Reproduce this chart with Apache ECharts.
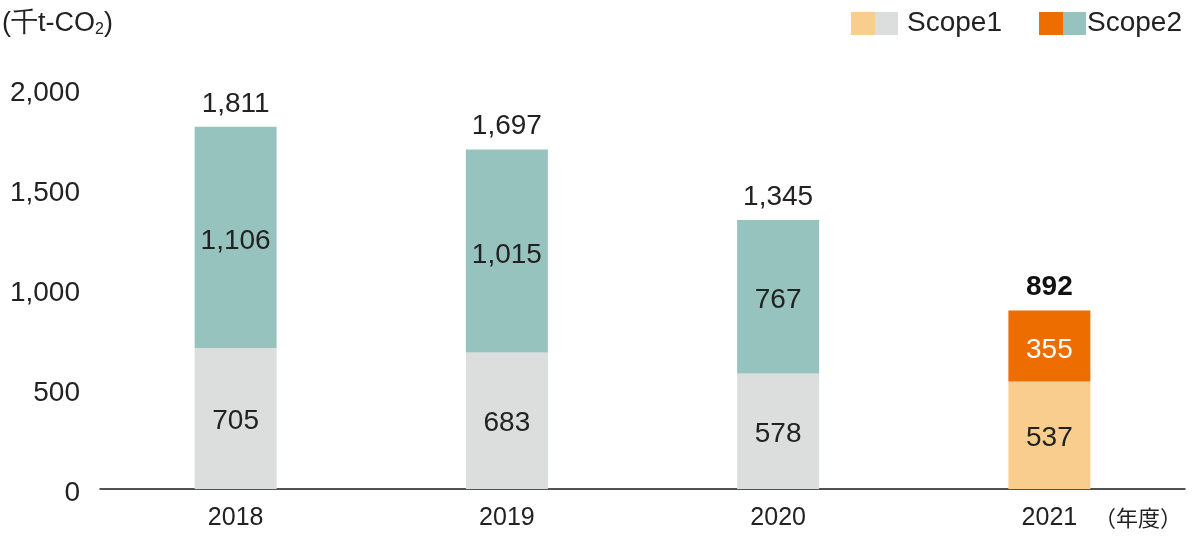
<!DOCTYPE html>
<html><head><meta charset="utf-8">
<script src="https://cdn.jsdelivr.net/npm/echarts@6/dist/echarts.min.js"></script>
<style>html,body{margin:0;padding:0;background:#fff}#c{width:1200px;height:543px}</style>
</head><body><div id="c"></div>
<script>
var categories = ['2018', '2019', '2020', '2021'];
var scope1 = [705, 683, 578, 537];
var scope2 = [1106, 1015, 767, 355];
var totals = [1811, 1697, 1345, 892];
var yTicks = [0, 500, 1000, 1500, 2000];

var FONT = '"Helvetica Neue", Helvetica, "Liberation Sans", Arial, sans-serif';
var C1 = '#dcdddd', C2 = '#97c3bf', C1h = '#f9cd8d', C2h = '#ed6d00';
var last = categories.length - 1;
function fmt(v) { return v.toLocaleString('en-US'); }

var chart = echarts.init(document.getElementById('c'));
chart.setOption({
  animation: false,
  textStyle: { fontFamily: FONT },
  grid: { left: 100, right: 15, top: 89, bottom: 54 },
  xAxis: {
    type: 'category', data: categories,
    axisLine: { lineStyle: { color: '#1a1a1a', width: 1.5 } },
    axisTick: { show: false },
    axisLabel: { color: '#222', fontSize: 25, margin: 17, fontFamily: FONT }
  },
  yAxis: {
    type: 'value', min: yTicks[0], max: yTicks[yTicks.length - 1], interval: 500,
    axisLine: { show: false }, axisTick: { show: false }, splitLine: { show: false },
    axisLabel: { color: '#222', fontSize: 28, margin: 20, fontFamily: FONT,
      formatter: function (v) { return '{a|' + fmt(v) + '}'; },
      rich: { a: { fontSize: 28, color: '#222', fontFamily: FONT, padding: [8, 0, 0, 0] } } }
  },
  series: [
    { type: 'bar', name: 'Scope1', stack: 's', barWidth: 82,
      data: scope1.map(function (v, i) { return { value: v, itemStyle: { color: i === last ? C1h : C1 } }; }),
      label: { show: true, position: 'inside', offset: [0, 3], fontSize: 28, color: '#222', fontFamily: FONT,
        formatter: function (p) { return fmt(p.value); } } },
    { type: 'bar', name: 'Scope2', stack: 's', barWidth: 82,
      data: scope2.map(function (v, i) {
        return i === last ? { value: v, itemStyle: { color: C2h }, label: { color: '#fff' } }
                          : { value: v, itemStyle: { color: C2 } };
      }),
      label: { show: true, position: 'inside', offset: [0, 4], fontSize: 28, color: '#222', fontFamily: FONT,
        formatter: function (p) { return fmt(p.value); } } },
    { type: 'bar', name: 'Total', stack: 's', barWidth: 82,
      data: totals.map(function () { return 0; }),
      label: { show: true, position: 'top', distance: 9, fontSize: 28, color: '#222', fontFamily: FONT,
        formatter: function (p) {
          var t = fmt(totals[p.dataIndex]);
          return p.dataIndex === last ? '{b|' + t + '}' : t;
        },
        rich: { b: { fontWeight: 'bold', fontSize: 28, color: '#111', fontFamily: FONT } } } }
  ],
  graphic: [
    { type: 'text', left: 2, top: 10, style: {
        text: '(千t-CO{s|2})', fontSize: 27, fill: '#222', fontFamily: FONT,
        rich: { s: { fontSize: 16, verticalAlign: 'bottom', padding: [12, 0, 0, 0], fill: '#222', fontFamily: FONT } } } },
    { type: 'rect', shape: { x: 851, y: 12, width: 24, height: 23 }, style: { fill: C1h } },
    { type: 'rect', shape: { x: 875, y: 12, width: 23, height: 23 }, style: { fill: C1 } },
    { type: 'text', left: 907, top: 9, style: { text: 'Scope1', fontSize: 28, fill: '#222', fontFamily: FONT } },
    { type: 'rect', shape: { x: 1039, y: 12, width: 24, height: 23 }, style: { fill: C2h } },
    { type: 'rect', shape: { x: 1063, y: 12, width: 23, height: 23 }, style: { fill: C2 } },
    { type: 'text', left: 1087, top: 9, style: { text: 'Scope2', fontSize: 28, fill: '#222', fontFamily: FONT } },
    { type: 'text', left: 1094, top: 507, style: { text: '（年度）', fontSize: 22, fill: '#222', fontFamily: '"Noto Sans CJK JP", sans-serif' } }
  ]
});
</script></body></html>
